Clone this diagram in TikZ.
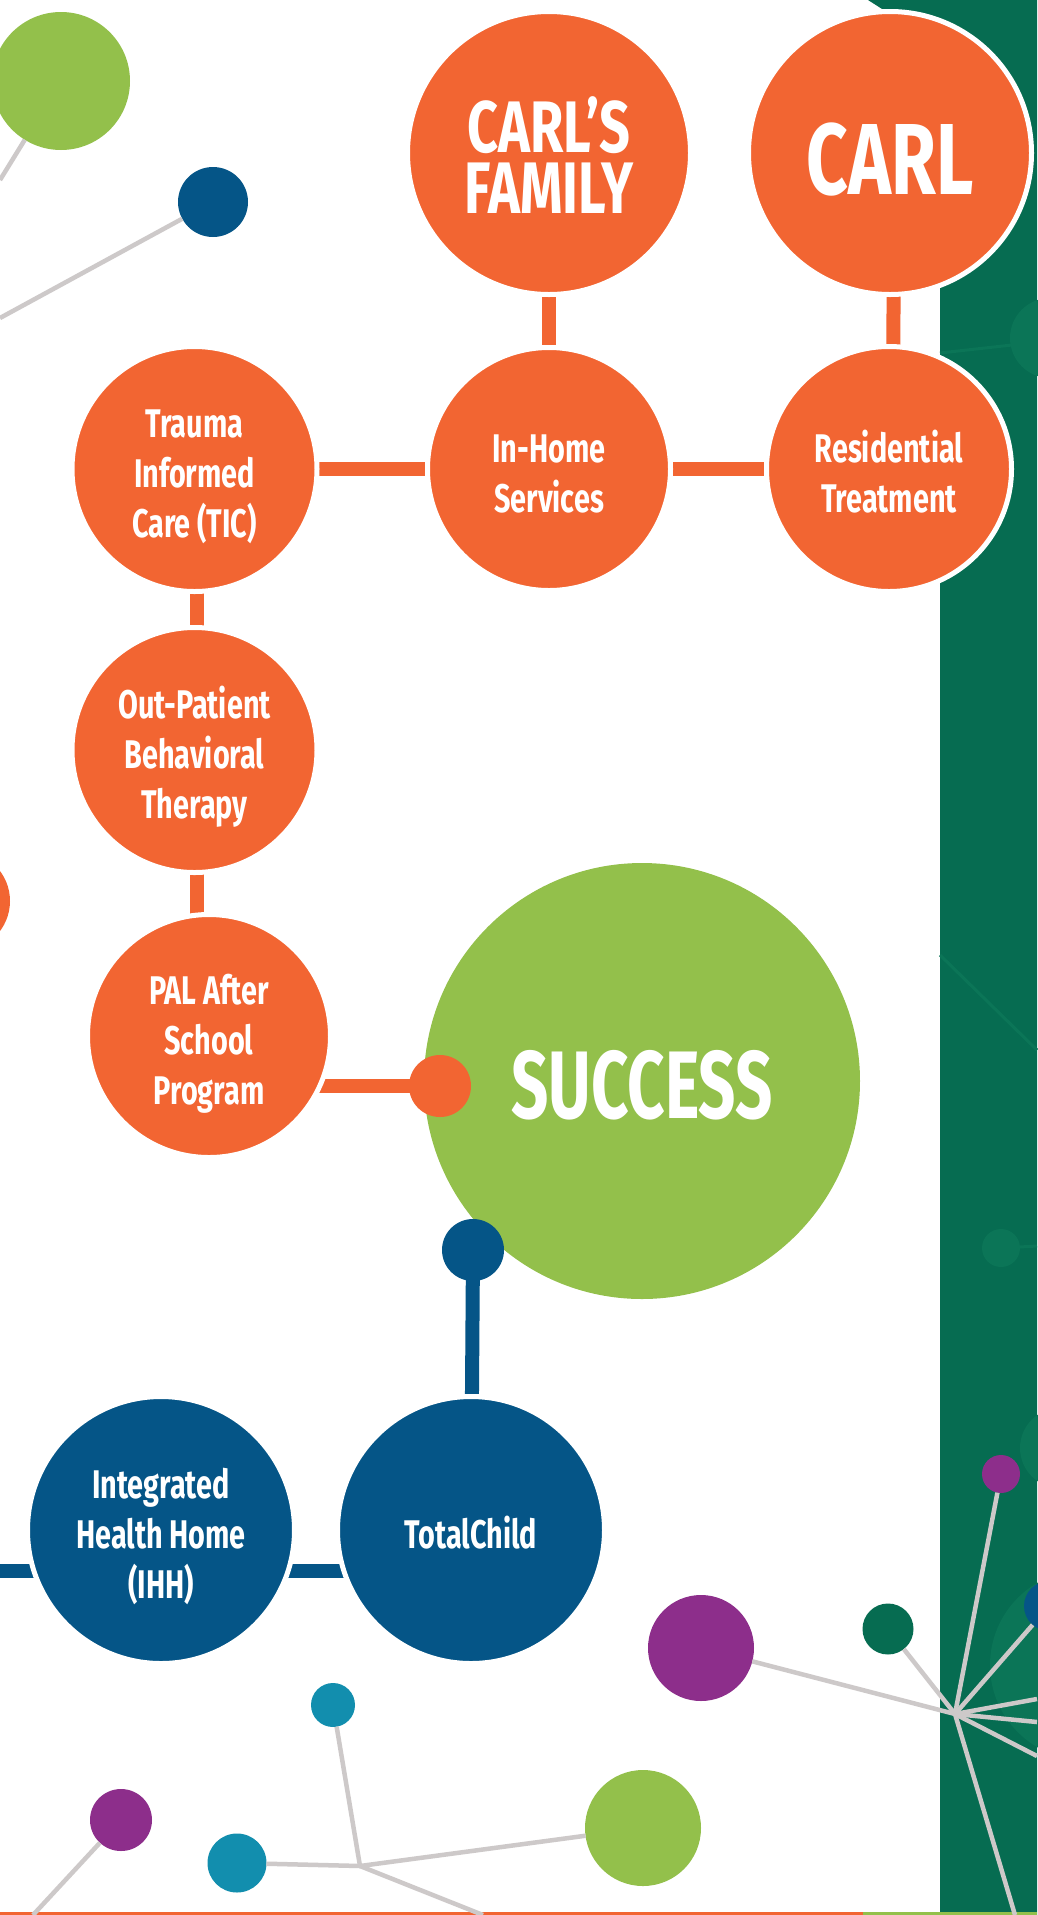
\documentclass[tikz,border=0pt]{standalone}
\usepackage{fontspec}
\newfontfamily\cond{Fira Sans}[FakeStretch=0.72]
\newfontfamily\condF{Fira Sans}[FakeStretch=0.74]
\newfontfamily\condS{Fira Sans}[FakeStretch=0.68]
\newcommand\uprule[1]{\rule{0pt}{#1}}
\newcommand\downrule{\rule[-10pt]{0pt}{10pt}}
\definecolor{corange}{HTML}{F26532}
\definecolor{clime}{HTML}{93C04B}
\definecolor{cnavy}{HTML}{055587}
\definecolor{cdkgreen}{HTML}{066C51}
\definecolor{cfaint}{HTML}{0B7557}
\definecolor{cpurple}{HTML}{8D2E8B}
\definecolor{ccyan}{HTML}{128EAE}
\definecolor{cgray}{HTML}{CDC9C9}
\pgfdeclarelayer{back}
\pgfdeclarelayer{mid}
\pgfsetlayers{back,mid,main}
\begin{document}
\begin{tikzpicture}[x=1pt,y=-1pt,
  circ/.style={circle, inner sep=0pt, outer sep=0pt},
  dot/.style={circ, fill=#1},
  mainnode/.style={circ, fill=corange, draw=white, line width=5pt, text=white, align=center,
    font=\cond\bfseries\fontsize{40}{50}\selectfont},
  bar/.style={line width=14pt},
  thread/.style={draw=cgray, line width=4.5pt},
  faint/.style={draw=cfaint, line width=3pt}]
\useasboundingbox (0,0) rectangle (1037,1915);

% ---------- main nodes ----------
\node[mainnode, minimum size=283pt, font=\condF\bfseries\fontsize{73}{61}\selectfont] (family) at (549,153) {\uprule{60pt}CARL’S\\FAMILY};
\node[mainnode, minimum size=283pt, font=\cond\bfseries\fontsize{101}{101}\selectfont] (carl) at (890,153) {\uprule{84pt}CARL};
\node[mainnode, minimum size=243pt] (inhome) at (549,469) {\uprule{46pt}In-Home\\Services\downrule};
\node[mainnode, minimum size=245pt] (resid) at (889,469) {\uprule{46pt}Residential\\Treatment\downrule};
\node[mainnode, minimum size=245pt] (trauma) at (194.5,469) {\uprule{46pt}Trauma\\Informed\\Care (TIC)\downrule};
\node[mainnode, minimum size=245pt] (outpat) at (194.5,750) {\uprule{46pt}Out-Patient\\Behavioral\\Therapy\downrule};
\node[mainnode, minimum size=243pt] (pal) at (209,1036) {\uprule{46pt}PAL After\\School\\Program\downrule};
\node[circ, fill=clime, minimum size=436pt, text=white, font=\condS\bfseries\fontsize{96}{96}\selectfont] (success) at (642,1081) {\uprule{76pt}SUCCESS};
\node[dot=corange, minimum size=62pt] (so) at (440,1086) {};
\node[dot=cnavy, minimum size=62pt] (sb) at (473,1250) {};
\node[mainnode, fill=cnavy, minimum size=267pt] (tc) at (471,1530) {\uprule{46pt}TotalChild\downrule};
\node[mainnode, fill=cnavy, minimum size=267pt] (ihh) at (161,1530) {\uprule{46pt}Integrated\\Health Home\\(IHH)\downrule};

% ---------- bars ----------
\begin{pgfonlayer}{mid}
\coordinate (lb) at (0,1571);
\draw[bar, corange] (family.center) -- (inhome.center);
\draw[bar, corange] ([xshift=4pt]carl.center) -- ([xshift=4pt]resid.center);
\draw[bar, corange] (trauma.center) -- (inhome.center);
\draw[bar, corange] (inhome.center) -- (resid.center);
\draw[bar, corange] ([xshift=2pt]trauma.center) -- ([xshift=2pt]outpat.center);
\draw[bar, corange] ([xshift=2pt]outpat.center) -- ([xshift=2pt]outpat.center |- pal.center);
\draw[bar, corange] (so.center -| pal.center) -- (so.center);
\draw[bar, cnavy] (sb.center) -- (tc.center);
\draw[bar, cnavy] ([yshift=-41pt]ihh.center) -- ([yshift=-41pt]tc.center);
\draw[bar, cnavy] (lb) -- ([yshift=-41pt]ihh.center);
\end{pgfonlayer}

% ---------- background and decorations ----------
\begin{pgfonlayer}{back}
\fill[white] (0,0) rectangle (1037,1915);
\fill[cdkgreen] (868,0) -- (940,46) -- (940,1915) -- (1037,1915) -- (1037,0) -- cycle;
% faint shapes in the green band
\fill[cfaint] (1050,338) circle (40);
\fill[cfaint] (1001,1248) circle (19);
\fill[cfaint] (1060,1448) circle (40);
\fill[cfaint] (1085,1665) circle (95);
\draw[faint] (940,353) -- (1012,345);
\draw[faint] (940,955) -- (1037,1050);
\draw[faint] (1001,1248) -- (1037,1246);
% bottom strip
\fill[corange] (0,1912) rectangle (863,1915);
\fill[clime] (863,1912) rectangle (1037,1915);
% dots
\node[dot=clime, minimum size=138pt] (d1) at (61,81) {};
\node[dot=cnavy, minimum size=70pt] (d2) at (213,202) {};
\node[dot=corange, minimum size=100pt] (d3) at (-40,901) {};
\node[dot=cpurple, minimum size=106pt] (d4) at (701,1648) {};
\node[dot=cdkgreen, minimum size=51pt] (d5) at (888,1629) {};
\node[dot=ccyan, minimum size=44pt] (d6) at (333,1705) {};
\node[dot=cpurple, minimum size=62pt] (d7) at (121,1820) {};
\node[dot=ccyan, minimum size=59pt] (d8) at (237,1863) {};
\node[dot=clime, minimum size=116pt] (d9) at (643,1828) {};
\node[dot=cpurple, minimum size=38pt] (d10) at (1001,1474) {};
\node[dot=cnavy, minimum size=50pt] (d11) at (1049,1606) {};
% hubs and free ends
\coordinate (h1) at (360,1866);
\coordinate (h2) at (955,1714);
\coordinate (e1) at (0,180);
\coordinate (e2) at (0,318);
\coordinate (e3) at (33,1915);
\coordinate (e4) at (483,1915);
\coordinate (e5) at (1037,1699);
\coordinate (e6) at (1037,1722);
\coordinate (e7) at (1037,1756);
\coordinate (e8) at (1015,1915);
% threads
\draw[thread] (d1) -- (e1);
\draw[thread] (d2) -- (e2);
\draw[thread] (d7) -- (e3);
\draw[thread] (h1) -- (d6);
\draw[thread] (h1) -- (d8);
\draw[thread] (h1) -- (d9);
\draw[thread] (h1) -- (e4);
\draw[thread] (h2) -- (d4);
\draw[thread] (h2) -- (d5);
\draw[thread] (h2) -- (d10);
\draw[thread] (h2) -- (d11);
\draw[thread] (h2) -- (e5);
\draw[thread] (h2) -- (e6);
\draw[thread] (h2) -- (e7);
\draw[thread] (h2) -- (e8);
\end{pgfonlayer}
\end{tikzpicture}
\end{document}
